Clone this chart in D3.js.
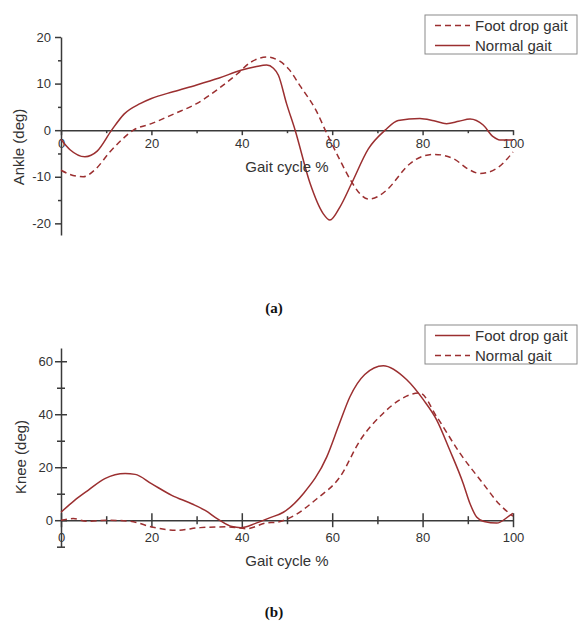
<!DOCTYPE html>
<html>
<head>
<meta charset="utf-8">
<script src="https://cdn.jsdelivr.net/npm/d3@7"></script>
<style>
  body { margin: 0; background: #fff; }
  text { font-family: "Liberation Sans", Arial, sans-serif; fill: #333; }
</style>
</head>
<body>
<div id="chart"></div>
<script>
// ankle angle (deg) vs gait cycle %
var ankleNormalX = [0, 2, 5.3, 8, 11.2, 14, 17.5, 20, 25, 30, 35, 40, 43, 45.5, 47, 48.1, 49.9, 51.8, 55.1, 58, 59.5, 61.7, 64.3, 68, 71.7, 74.6, 79.4, 82.5, 85.3, 88, 90.5, 93.4, 95.6, 97.1, 100];
var ankleNormalY = [-2, -4.2, -5.7, -4.5, 0, 3.5, 5.7, 6.8, 8.3, 9.7, 11.2, 12.9, 13.6, 14, 13.3, 11.8, 5.7, 0, -11.4, -17.9, -19.3, -16.5, -11.4, -4, 0, 2.1, 2.5, 2.0, 1.4, 1.9, 2.4, 1.1, -1.4, -2.1, -2.1];
var ankleDropX = [0, 2, 4.9, 7.5, 10.8, 13.5, 16, 20, 25, 30, 35, 38.9, 42, 45.5, 48.4, 50.5, 52.9, 56.4, 58.8, 61.7, 64.3, 66, 68, 70, 72, 77.2, 80, 82.7, 86.8, 90, 92.7, 96.4, 100];
var ankleDropY = [-8.6, -9.5, -10, -8.5, -4.7, -2, 0, 1.4, 3.5, 5.7, 9, 12, 14.6, 15.7, 14.8, 13, 9.5, 4.3, -0.7, -6.4, -11.1, -13.5, -14.8, -14.3, -12.9, -7.2, -5.6, -5.2, -6.1, -8.3, -9.3, -8.2, -4.7];

// knee angle (deg) vs gait cycle %
var kneeDropX = [0, 3, 6, 9.7, 14.2, 16.4, 20, 24.5, 28.9, 31.9, 34.8, 37.8, 39.8, 42.9, 46, 49.2, 53.6, 58.8, 61.5, 63.9, 67.2, 71.3, 76.5, 80.2, 83.1, 86, 89, 90.5, 92, 93.6, 96.4, 99.3, 100];
var kneeDropY = [3, 7.5, 11.3, 15.7, 17.6, 17.3, 13.8, 9.4, 6.2, 3.7, 0.3, -2.4, -2.8, -1.3, 0.8, 3, 10, 23.9, 36, 46.5, 55, 58.3, 53, 45.4, 37.9, 26.5, 13.8, 6.2, 1.1, -0.5, -1.1, 1.8, 2.6];
var kneeNormalX = [0, 2.7, 5.7, 10, 15.3, 20.4, 25.6, 30.8, 36.7, 41.1, 45.5, 47.5, 50.5, 56.6, 61.7, 66.2, 71.3, 75, 77.5, 79.4, 83.1, 88.3, 93.4, 97, 100];
var kneeNormalY = [0, 0.6, -0.4, 0, -0.4, -2.7, -3.8, -2.8, -2.5, -3.2, -1, -0.8, 0.8, 8.1, 16.3, 30.2, 40.4, 45.5, 47.5, 48, 39.1, 25.2, 13.8, 6, 1.5];

var xTicks = [0, 20, 40, 60, 80, 100];
var xMinorTicks = [10, 30, 50, 70, 90];
var ankleTicks = [-20, -10, 0, 10, 20];
var ankleMinorTicks = [-15, -5, 5, 15];
var kneeTicks = [0, 20, 40, 60];
var kneeMinorTicks = [-10, 10, 30, 50];

var lineColor = "#9b2f30";
var axisColor = "#3a3a3a";

var svg = d3.select("#chart").append("svg")
  .attr("width", 579)
  .attr("height", 621);

function zip(xs, ys) {
  return xs.map(function(x, i) { return { x: x, y: ys[i] }; });
}

// plain hyphen for negatives, like the original plot
var fmt = function(d) { return String(d); };

function drawPanel(opt) {
  var x = d3.scaleLinear().domain([0, 100]).range([61, 513]);
  var y = d3.scaleLinear().domain(opt.yDomain).range(opt.yRange);
  var g = svg.append("g");

  // x axis sits on y = 0
  var xAxis = g.append("g")
    .attr("transform", "translate(0," + y(0) + ")")
    .call(d3.axisBottom(x).tickValues(xTicks).tickFormat(fmt).tickSize(opt.cross ? 7 : 5)
      .tickPadding(opt.cross ? 6 : 4).tickSizeOuter(0));
  var xMinor = g.append("g")
    .attr("transform", "translate(0," + y(0) + ")")
    .call(d3.axisBottom(x).tickValues(xMinorTicks).tickSize(opt.cross ? 4 : 3).tickFormat("").tickSizeOuter(0));
  xMinor.select(".domain").remove();

  var yAxis = g.append("g")
    .attr("transform", "translate(61,0)")
    .call(d3.axisLeft(y).tickValues(opt.ticks).tickFormat(fmt).tickSize(6)
      .tickPadding(opt.cross ? 2 : 4).tickSizeOuter(0));
  var yMinor = g.append("g")
    .attr("transform", "translate(61,0)")
    .call(d3.axisLeft(y).tickValues(opt.minor).tickSize(opt.cross ? 4 : 3).tickFormat("").tickSizeOuter(0));
  yMinor.select(".domain").remove();

  if (opt.cross) {
    xAxis.selectAll(".tick line").attr("y1", -7);
    xMinor.selectAll(".tick line").attr("y1", -4);
    yAxis.selectAll(".tick line").attr("x1", 6);
    yMinor.selectAll(".tick line").attr("x1", 4);
  }

  g.selectAll(".domain, .tick line")
    .attr("stroke", axisColor)
    .attr("stroke-width", 1.5);
  g.selectAll(".tick text")
    .attr("font-size", 13)
    .attr("font-family", "Liberation Sans, Arial, sans-serif")
    .attr("fill", "#333");

  var line = d3.line()
    .x(function(d) { return x(d.x); })
    .y(function(d) { return y(d.y); })
    .curve(d3.curveMonotoneX);

  opt.series.forEach(function(s) {
    g.append("path")
      .datum(s.data)
      .attr("d", line)
      .attr("fill", "none")
      .attr("stroke", lineColor)
      .attr("stroke-width", 1.5)
      .attr("stroke-dasharray", s.dashed ? "6,4" : null);
  });

  // legend
  var lg = g.append("g").attr("transform", "translate(425," + opt.legendTop + ")");
  lg.append("rect")
    .attr("width", 152).attr("height", 39)
    .attr("fill", "#fff").attr("stroke", "#8a8a8a").attr("stroke-width", 1);
  opt.series.forEach(function(s, i) {
    var ly = 10.5 + i * 20;
    lg.append("line")
      .attr("x1", 10).attr("x2", 45).attr("y1", ly).attr("y2", ly)
      .attr("stroke", lineColor).attr("stroke-width", 1.5)
      .attr("stroke-dasharray", s.dashed ? "6,4" : null);
    lg.append("text")
      .attr("x", 50).attr("y", ly + 5)
      .attr("font-size", 15)
      .text(s.name);
  });

  g.append("text")
    .attr("x", 287).attr("y", opt.xLabelY)
    .attr("text-anchor", "middle")
    .attr("font-size", 15)
    .text("Gait cycle %");

  g.append("text")
    .attr("transform", "translate(" + opt.yLabelX + "," + opt.yLabelMid + ") rotate(-90)")
    .attr("text-anchor", "middle")
    .attr("font-size", 15)
    .text(opt.yLabel);

  g.append("text")
    .attr("x", 274).attr("y", opt.capY)
    .attr("text-anchor", "middle")
    .attr("font-size", 15)
    .attr("font-weight", "bold")
    .style("font-family", "Liberation Serif, Times New Roman, serif")
    .style("fill", "#111")
    .text(opt.caption);
}

drawPanel({
  yDomain: [-22.5, 20], yRange: [235, 37],
  ticks: ankleTicks, minor: ankleMinorTicks, cross: false,
  series: [
    { name: "Foot drop gait", dashed: true, data: zip(ankleDropX, ankleDropY) },
    { name: "Normal gait", dashed: false, data: zip(ankleNormalX, ankleNormalY) }
  ],
  legendTop: 15, xLabelY: 172, yLabelX: 24, yLabelMid: 147,
  yLabel: "Ankle (deg)", caption: "(a)", capY: 313
});

drawPanel({
  yDomain: [-10, 65], yRange: [546.7, 348],
  ticks: kneeTicks, minor: kneeMinorTicks, cross: true,
  series: [
    { name: "Foot drop gait", dashed: false, data: zip(kneeDropX, kneeDropY) },
    { name: "Normal gait", dashed: true, data: zip(kneeNormalX, kneeNormalY) }
  ],
  legendTop: 325, xLabelY: 566, yLabelX: 26, yLabelMid: 457,
  yLabel: "Knee (deg)", caption: "(b)", capY: 617
});
</script>
</body>
</html>
